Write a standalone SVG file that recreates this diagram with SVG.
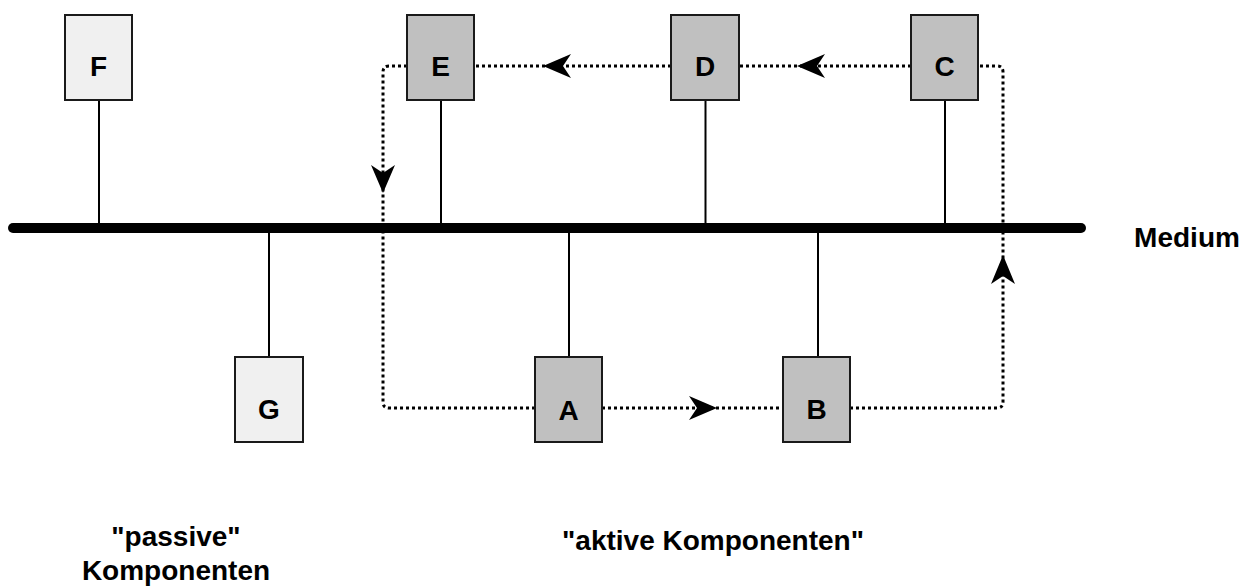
<svg xmlns="http://www.w3.org/2000/svg" width="1257" height="586" viewBox="0 0 1257 586">
  <style>
    .box { stroke: #1a1a1a; stroke-width: 2; }
    .active { fill: #c0c0c0; }
    .passive { fill: #f0f0f0; }
    .lbl { font-family: "Liberation Sans", Arial, sans-serif; font-weight: bold; font-size: 28px; fill: #000; text-anchor: middle; }
    .stub { stroke: #000; stroke-width: 2; fill: none; }
    .ring { stroke: #000; stroke-width: 3; stroke-dasharray: 3 3; fill: none; }
    .head { fill: #000; }
  </style>
  <rect width="1257" height="586" fill="#fff"/>

  <!-- bus medium -->
  <g id="medium">
    <line x1="13" y1="228" x2="1081" y2="228" stroke="#000" stroke-width="10" stroke-linecap="round"/>
    <text class="lbl" x="1187" y="247">Medium</text>
  </g>

  <!-- connectors: stubs to the bus and the token ring -->
  <g id="connectors">
    <line class="stub" x1="99" y1="100" x2="99" y2="224"/>
    <line class="stub" x1="441" y1="100" x2="441" y2="224"/>
    <line class="stub" x1="705.5" y1="100" x2="705.5" y2="224"/>
    <line class="stub" x1="945" y1="100" x2="945" y2="224"/>
    <line class="stub" x1="269" y1="232" x2="269" y2="357"/>
    <line class="stub" x1="569" y1="232" x2="569" y2="357"/>
    <line class="stub" x1="818" y1="232" x2="818" y2="357"/>

    <path class="ring" d="M407,66 H389 Q383,66 383,72 V402 Q383,408 389,408 H535"/>
    <path class="ring" d="M602,408 H783"/>
    <path class="ring" d="M850,408 H997 Q1003,408 1003,402 V72 Q1003,66 997,66 H978"/>
    <path class="ring" d="M911,66 H740"/>
    <path class="ring" d="M671,66 H474"/>

    <path class="head" d="M543,66 L571,54 L563,66 L571,78 Z"/>
    <path class="head" d="M797,66 L825,54 L817,66 L825,78 Z"/>
    <path class="head" d="M383,193 L371,165 L383,173 L395,165 Z"/>
    <path class="head" d="M1003,255 L991,284 L1003,276 L1015,284 Z"/>
    <path class="head" d="M717,408 L689,396 L697,408 L689,420 Z"/>
  </g>

  <g id="node-F">
    <rect class="box passive" x="65" y="15" width="67" height="85"/>
    <text class="lbl" x="98.5" y="76">F</text>
  </g>
  <g id="node-E">
    <rect class="box active" x="407" y="15" width="67" height="85"/>
    <text class="lbl" x="440.5" y="76">E</text>
  </g>
  <g id="node-D">
    <rect class="box active" x="671" y="15" width="68" height="85"/>
    <text class="lbl" x="705" y="76">D</text>
  </g>
  <g id="node-C">
    <rect class="box active" x="911" y="15" width="67" height="85"/>
    <text class="lbl" x="944.5" y="76">C</text>
  </g>
  <g id="node-G">
    <rect class="box passive" x="235" y="357" width="68" height="85"/>
    <text class="lbl" x="269" y="419">G</text>
  </g>
  <g id="node-A">
    <rect class="box active" x="535" y="357" width="67" height="85"/>
    <text class="lbl" x="568.5" y="420">A</text>
  </g>
  <g id="node-B">
    <rect class="box active" x="783" y="357" width="67" height="85"/>
    <text class="lbl" x="816.5" y="419">B</text>
  </g>

  <g id="labels">
    <text class="lbl" x="176" y="546">"passive"</text>
    <text class="lbl" x="176" y="580">Komponenten</text>
    <text class="lbl" x="713" y="550">"aktive Komponenten"</text>
  </g>
</svg>
